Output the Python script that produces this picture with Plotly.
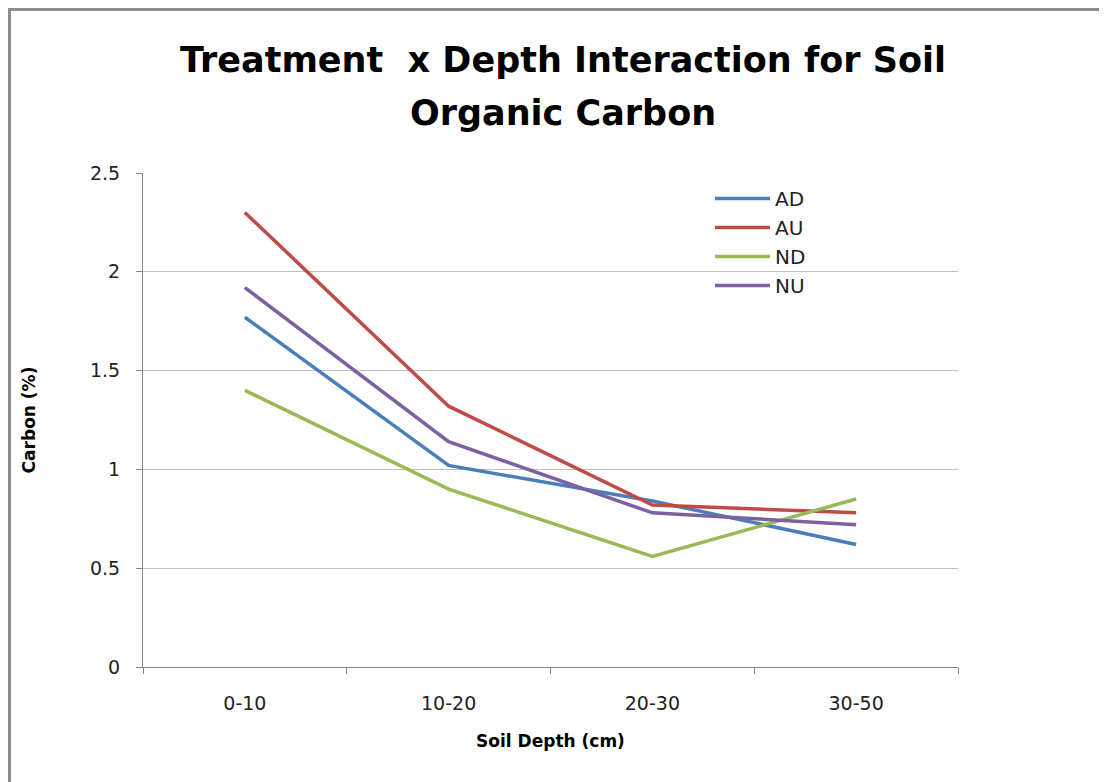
import plotly.graph_objects as go

categories = ["0-10", "10-20", "20-30", "30-50"]
ad = [1.77, 1.02, 0.84, 0.62]
au = [2.30, 1.32, 0.82, 0.78]
nd = [1.40, 0.90, 0.56, 0.85]
nu = [1.92, 1.14, 0.78, 0.72]
y_ticks = [0, 0.5, 1, 1.5, 2, 2.5]
y_tick_text = ["0", "0.5", "1", "1.5", "2", "2.5"]
title_lines = ["Treatment  x Depth Interaction for Soil", "Organic Carbon"]

series = [("AD", ad, "#4a7ebb"), ("AU", au, "#be4b48"), ("ND", nd, "#98b954"), ("NU", nu, "#7d60a0")]

W, H = 1099, 774
L, R, T, B = 135, 149, 165, 115
pw, ph = W - L - R, H - T - B

fig = go.Figure()
for name, vals, color in series:
    fig.add_trace(go.Scatter(x=categories, y=vals, mode="lines", name=name,
                             line=dict(color=color, width=3.5)))

FONT = "DejaVu Sans, Verdana, sans-serif"
fig.update_layout(
    width=W, height=H,
    paper_bgcolor="white", plot_bgcolor="white",
    margin=dict(l=L, r=R, t=T, b=B),
    font=dict(family=FONT, color="#222222"),
    legend=dict(x=(702 - L) / pw, y=1 - (171 - T) / ph, xanchor="left", yanchor="top",
                bgcolor="rgba(0,0,0,0)", font=dict(size=20, family=FONT),
                tracegroupgap=0, itemwidth=55),
    showlegend=True,
)
# title as two centered lines
for i, (txt, ycen) in enumerate(zip(title_lines, [52, 105])):
    fig.add_annotation(text="<b>%s</b>" % txt, xref="paper", yref="paper",
                       x=(555 - L) / pw, y=1 + (T - ycen) / ph, xanchor="center", yanchor="middle",
                       showarrow=False, font=dict(family=FONT, size=35, color="black"))

fig.update_xaxes(
    type="category", tickson="boundaries", ticks="outside", ticklen=6, tickcolor="#868686",
    showline=True, linecolor="#868686", linewidth=1, showgrid=False,
    tickfont=dict(size=19), range=[-0.5, 3.5], ticklabelstandoff=19,
    title=dict(text="<b>Soil Depth (cm)</b>", font=dict(size=17, color="black"), standoff=22),
)
fig.update_yaxes(
    range=[0, 2.5], tickvals=y_ticks, ticktext=y_tick_text, ticks="outside", ticklen=6,
    tickcolor="#868686", showline=True, linecolor="#868686", linewidth=1,
    showgrid=True, gridcolor="#c0c0c0", gridwidth=1, zeroline=False,
    tickfont=dict(size=19), ticklabelstandoff=12,
    title=dict(text="<b>Carbon (%)</b>", font=dict(size=17, color="black"), standoff=50),
)
fig.add_shape(type="rect", xref="paper", yref="paper",
              x0=-(L - 1.5) / pw, x1=(W - L + 20) / pw,
              y0=-(B + 20) / ph, y1=1 + (T - 1.5) / ph,
              line=dict(color="#8c8c8c", width=3), fillcolor="rgba(0,0,0,0)")
fig.write_html("out.html")
